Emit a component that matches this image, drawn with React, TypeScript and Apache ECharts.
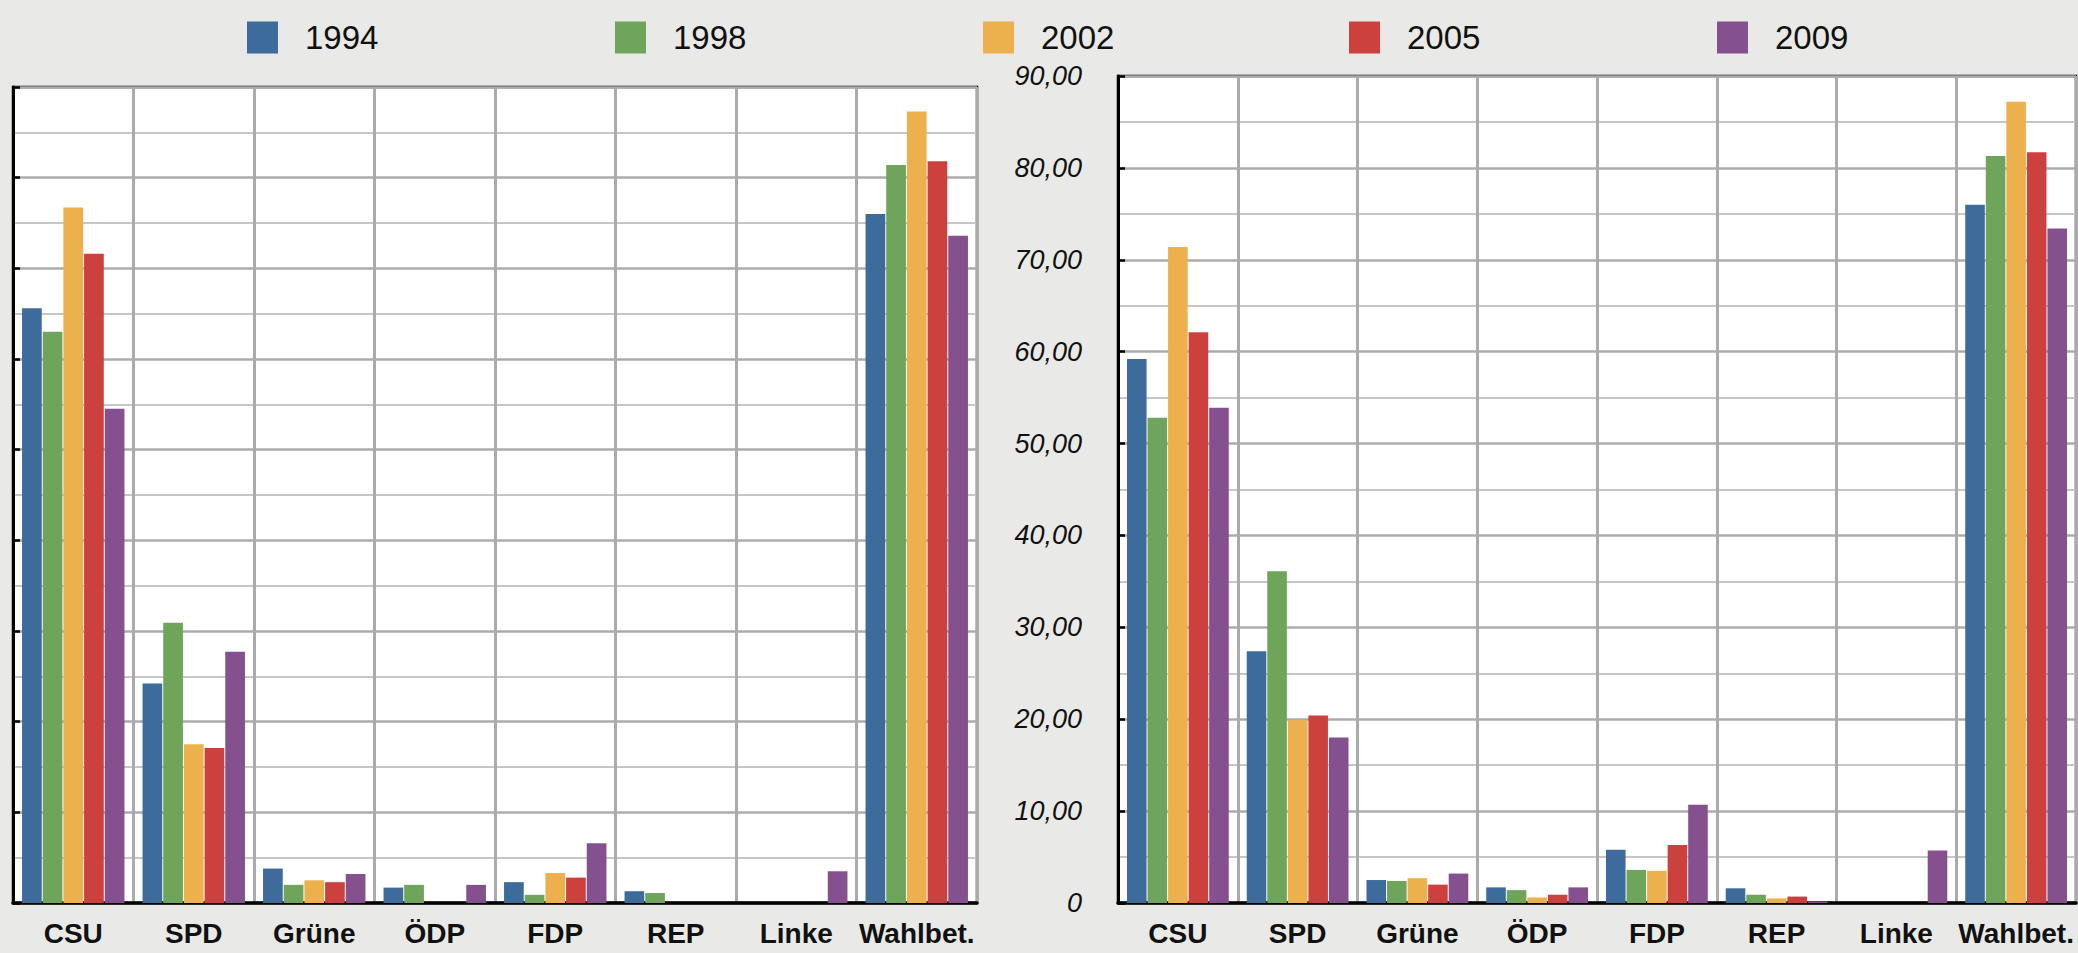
import React, { useEffect, useRef } from "react";
import * as echarts from "echarts";

const years = ["1994", "1998", "2002", "2005", "2009"];
const categories = ["CSU", "SPD", "Grüne", "ÖDP", "FDP", "REP", "Linke", "Wahlbet."];

// Left panel values (per year, per category)
const left1994 = [65.6, 24.2, 3.8, 1.7, 2.3, 1.3, 0, 76.0];
const left1998 = [63.0, 30.9, 2.0, 2.0, 0.9, 1.1, 0, 81.4];
const left2002 = [76.7, 17.5, 2.5, 0, 3.3, 0, 0, 87.3];
const left2005 = [71.6, 17.1, 2.3, 0, 2.8, 0, 0, 81.8];
const left2009 = [54.5, 27.7, 3.2, 2.0, 6.6, 0, 3.5, 73.6];

// Right panel values
const right1994 = [59.2, 27.4, 2.5, 1.7, 5.8, 1.6, 0, 76.0];
const right1998 = [52.8, 36.1, 2.4, 1.4, 3.6, 0.9, 0, 81.3];
const right2002 = [71.4, 19.9, 2.7, 0.6, 3.5, 0.5, 0, 87.2];
const right2005 = [62.1, 20.4, 2.0, 0.9, 6.3, 0.7, 0, 81.7];
const right2009 = [53.9, 18.0, 3.2, 1.7, 10.7, 0.15, 5.7, 73.4];

const leftValues = [left1994, left1998, left2002, left2005, left2009];
const rightValues = [right1994, right1998, right2002, right2005, right2009];

const colors = ["#3d6b9c", "#6ea55a", "#ecb04d", "#cc413e", "#84518e"];

const yMin = 0;
const yMax = 90;
const yStep = 10;

const FONT = "'Liberation Sans', Arial, Helvetica, sans-serif";

function fmt(v: number): string {
  if (v === 0) return "0";
  return v.toFixed(2).replace(".", ",");
}

function makeYAxis(gridIndex: number, showLabels: boolean) {
  return {
    type: "value",
    gridIndex,
    min: yMin,
    max: yMax,
    interval: yStep,
    axisLine: { show: true, lineStyle: { color: "#000", width: 3 } },
    axisTick: { show: true, inside: true, length: 7, lineStyle: { color: "#000", width: 2.5 } },
    axisLabel: {
      show: showLabels,
      margin: 36,
      fontFamily: FONT,
      fontStyle: "italic",
      fontSize: 27,
      color: "#111",
      formatter: (v: number) => fmt(v),
    },
    splitLine: { show: true, lineStyle: { color: "#ababab", width: 2.5 } },
    minorTick: { show: false, splitNumber: 2 },
    minorSplitLine: { show: true, lineStyle: { color: "#c6c6c6", width: 2 } },
  };
}

function makeXAxis(gridIndex: number) {
  return {
    type: "category",
    gridIndex,
    data: categories,
    boundaryGap: true,
    axisLine: { show: true, lineStyle: { color: "#000", width: 3.5 } },
    axisTick: { show: false },
    axisLabel: {
      interval: 0,
      margin: 16,
      fontFamily: FONT,
      fontWeight: "bold",
      fontSize: 28,
      color: "#111",
    },
    splitLine: { show: true, interval: 0, lineStyle: { color: "#ababab", width: 3 } },
  };
}

const legendLefts = [242, 610, 978, 1344, 1712];

export default function App() {
  const ref = useRef<HTMLDivElement>(null);

  useEffect(() => {
    if (!ref.current) return;
    const chart = echarts.init(ref.current, null, { renderer: "svg" });

    const series: any[] = [];
    [leftValues, rightValues].forEach((vals, gi) => {
      vals.forEach((arr, i) => {
        series.push({
          type: "bar",
          name: years[i],
          xAxisIndex: gi,
          yAxisIndex: gi,
          data: arr,
          barCategoryGap: "15%",
          barGap: "5%",
          itemStyle: { color: colors[i] },
          emphasis: { disabled: true },
        });
      });
    });

    const option: any = {
      animation: false,
      backgroundColor: "#e9eae7",
      color: colors,
      legend: years.map((y, i) => ({
        data: [y],
        left: legendLefts[i],
        top: 16,
        itemWidth: 31,
        itemHeight: 32,
        icon: "rect",
        selectedMode: false,
        textStyle: {
          fontFamily: FONT,
          fontSize: 33,
          color: "#111",
          padding: [0, 0, 0, 22],
        },
      })),
      grid: [
        {
          left: 13,
          top: 87,
          width: 964,
          height: 816,
          show: true,
          backgroundColor: "#ffffff",
          borderColor: "#000",
          borderWidth: 2.5,
        },
        {
          left: 1118,
          top: 76,
          width: 958,
          height: 827,
          show: true,
          backgroundColor: "#ffffff",
          borderColor: "#000",
          borderWidth: 2.5,
        },
      ],
      xAxis: [makeXAxis(0), makeXAxis(1)],
      yAxis: [makeYAxis(0, false), makeYAxis(1, true)],
      series,
    };

    chart.setOption(option);
    return () => chart.dispose();
  }, []);

  return (
    <div
      ref={ref}
      style={{ position: "fixed", left: 0, top: 0, width: 2078, height: 953, background: "#e9eae7" }}
    />
  );
}
